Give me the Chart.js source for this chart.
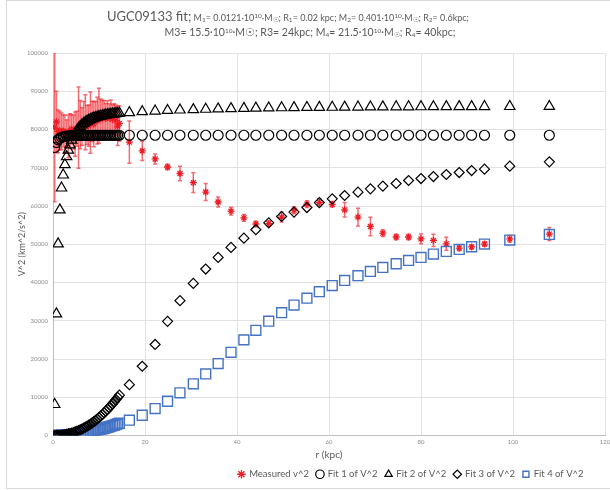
<!DOCTYPE html>
<html>
<head>
<meta charset="utf-8">
<script src="https://cdn.jsdelivr.net/npm/chart.js@4.4.1/dist/chart.umd.min.js"></script>
<style>
  html, body { margin: 0; padding: 0; background: #fff; overflow: hidden; }
  #wrap { position: relative; width: 610px; height: 490px; overflow: hidden; }
  #frame { position: absolute; left: 6px; top: 0; width: 800px; height: 487px; border: 1px solid #d9d9d9; }
  #title { position: absolute; left: 0; top: 7px; width: 620px; text-align: center; color: #595959; font-family: Lato, sans-serif; }
  #title .l1 { height: 17px; line-height: 17px; font-size: 9px; position: relative; left: -22px; }
  #title .l2 { height: 14px; line-height: 14px; font-size: 10.5px; }
  #title .big { font-size: 13px; }
  #title sub { font-size: 6.5px; vertical-align: -1px; }
  #title sup { font-size: 6.5px; vertical-align: 3px; }
  #fitChart { position: absolute; left: 0; top: 0; }
</style>
</head>
<body>
<div id="wrap">
  <div id="frame"></div>
  <canvas id="fitChart" width="822" height="490"></canvas>
  <div id="title">
    <div class="l1"><span class="big">UGC09133 fit;</span> M<sub>1</sub>= 0.0121·10<sup>10</sup>·M<sub>☉</sub>; R<sub>1</sub>= 0.02 kpc; M<sub>2</sub>= 0.401·10<sup>10</sup>·M<sub>☉</sub>; R<sub>2</sub>= 0.6kpc;</div>
    <div class="l2">M3= 15.5·10<sup>10</sup>·M☉; R3= 24kpc; M<sub>4</sub>= 21.5·10<sup>10</sup>·M<sub>☉</sub>; R<sub>4</sub>= 40kpc;</div>
  </div>
</div>
<script>
// radii (kpc)
const radius = [
  0.37, 0.74, 1.11, 1.48, 1.85, 2.22, 2.59, 2.96, 3.33, 3.70,
  4.07, 4.44, 4.81, 5.18, 5.55, 5.92, 6.29, 6.66, 7.03, 7.40,
  7.77, 8.14, 8.51, 8.88, 9.25, 9.62, 9.99, 10.36, 10.73, 11.10,
  11.47, 11.84, 12.21, 12.58, 12.95, 13.32, 13.69, 14.06, 14.43,
  16.6, 19.4, 22.2, 24.9, 27.6, 30.5, 33.2, 35.9, 38.7, 41.5,
  44.1, 46.9, 49.7, 52.4, 55.2, 57.9, 60.7, 63.4, 66.3, 69.0,
  71.7, 74.6, 77.3, 80.0, 82.7, 85.5, 88.3, 91.0, 93.8, 99.3,
  107.9
];

// measured v^2 and its error
const measured = [
  80600, 82000, 79500, 79700, 79500, 79600, 78800, 79000, 78200, 79600,
  80100, 79300, 78800, 80200, 80500, 81300, 80800, 82300, 81900, 81200,
  81000, 81800, 82100, 81400, 82600, 82300, 83600, 82800, 82900, 83200,
  82900, 83400, 83000, 83500, 82700, 83100, 82400, 80900, 81600,
  76700, 74400, 72300, 70200, 68500, 66100, 63650, 61050, 58650, 56900,
  55300, 55400, 57100, 58900, 60500, 60900, 60450, 59000, 57100, 54650,
  52900, 51900, 51900, 51400, 51000, 50100, 49000, 49300, 50050, 51400,
  52650
];
const measuredErr = [
  19500, 8000, 5600, 5000, 4800, 4200, 4900, 3500, 5600, 4500,
  3800, 4400, 5800, 4600, 10600, 6300, 4900, 5000, 7200, 5100,
  5400, 8000, 5300, 5900, 4700, 6100, 7200, 5200, 4800, 4300,
  3900, 4100, 3700, 4200, 3800, 3600, 4000, 5100, 4600,
  5500, 2500, 1300, 700, 1900, 2600, 2200, 1300, 1000, 900,
  700, 700, 1300, 900, 900, 900, 700, 1900, 2300, 2400,
  900, 700, 700, 1300, 1600, 1700, 700, 600, 600, 900,
  1700
];

const fit1 = [
  75300, 76600, 77300, 77700, 77950, 78100, 78200, 78280, 78330, 78370,
  78400, 78420, 78440, 78450, 78460, 78470, 78475, 78480, 78485, 78490,
  78490, 78495, 78495, 78500, 78500, 78500, 78500, 78500, 78500, 78500,
  78500, 78500, 78500, 78500, 78500, 78500, 78500, 78500, 78500,
  78500, 78500, 78500, 78500, 78500, 78500, 78500, 78500, 78500, 78500,
  78500, 78500, 78500, 78500, 78500, 78500, 78500, 78500, 78500, 78500,
  78500, 78500, 78500, 78500, 78500, 78500, 78500, 78500, 78500, 78500,
  78500
];
const fit2 = [
  8100, 31800, 50100, 59000, 64700, 68100, 70800, 72900, 74600, 76000,
  77200, 78200, 79000, 79700, 80300, 80800, 81200, 81600, 81900, 82200,
  82450, 82650, 82850, 83000, 83150, 83300, 83400, 83500, 83600, 83700,
  83780, 83850, 83920, 83990, 84050, 84110, 84170, 84220, 84270,
  84400, 84650, 84820, 84980, 85100, 85200, 85300, 85380, 85450, 85520,
  85580, 85630, 85680, 85720, 85760, 85790, 85820, 85850, 85870, 85890,
  85910, 85930, 85940, 85950, 85960, 85970, 85980, 85990, 86000, 86010,
  86030
];
const fit3 = [
  3, 15, 37, 70, 115, 172, 241, 323, 419, 528,
  651, 788, 940, 1107, 1288, 1484, 1696, 1923, 2166, 2425,
  2700, 2990, 3297, 3621, 3961, 4318, 4692, 5084, 5491, 5917,
  6360, 6819, 7297, 7792, 8305, 8837, 9381, 9952, 10537,
  13300, 18100, 23800, 29850, 35250, 39770, 43520, 46550, 49170, 51600,
  53800, 55600, 57260, 58400, 59600, 60900, 61880, 62740, 63620, 64490,
  65200, 65880, 66660, 67180, 67700, 68230, 68750, 69270, 69630, 70420,
  71540
];
const fit4 = [
  2, 8, 19, 34, 53, 76, 103, 135, 170, 210,
  255, 303, 356, 412, 473, 539, 608, 682, 760, 842,
  928, 1018, 1113, 1212, 1315, 1422, 1534, 1650, 1770, 1894,
  2022, 2155, 2291, 2432, 2578, 2727, 2881, 3038, 3200,
  4000, 5300, 7050, 8960, 11150, 13500, 16100, 18800, 21750, 25000,
  27500, 29900, 32100, 34100, 35900, 37600, 39200, 40550, 41780, 42900,
  43940, 44900, 45770, 46550, 47440, 48120, 48640, 49350, 50050, 51100,
  52560
];

const pts = vals => radius.map((r, i) => ({ x: r, y: vals[i] }));

// vertical error bars under the measured markers
const errorBars = {
  id: "errorBars",
  beforeDatasetDraw(chart, args) {
    if (args.index !== 0) return;
    const { ctx, chartArea, scales: { x, y } } = chart;
    ctx.save();
    ctx.beginPath();
    ctx.rect(chartArea.left, chartArea.top, chartArea.width, chartArea.height);
    ctx.clip();
    ctx.strokeStyle = "rgba(238,28,37,0.65)";
    ctx.lineWidth = 1.5;
    radius.forEach((r, i) => {
      const px = x.getPixelForValue(r);
      const top = y.getPixelForValue(measured[i] + measuredErr[i]);
      const bot = y.getPixelForValue(measured[i] - measuredErr[i]);
      ctx.beginPath();
      ctx.moveTo(px, top); ctx.lineTo(px, bot);
      ctx.moveTo(px - 2, top); ctx.lineTo(px + 2, top);
      ctx.moveTo(px - 2, bot); ctx.lineTo(px + 2, bot);
      ctx.stroke();
    });
    ctx.restore();
  }
};

const font = "Lato, 'Open Sans', sans-serif";

new Chart(document.getElementById("fitChart"), {
  type: "scatter",
  data: {
    datasets: [
      {
        label: "Measured v^2",
        data: pts(measured),
        pointStyle: "star",
        pointRadius: 3.5,
        borderColor: "#ee1c25",
        backgroundColor: "#ee1c25",
        borderWidth: 1.3,
        order: 1
      },
      {
        label: "Fit 1 of V^2",
        data: pts(fit1),
        pointStyle: "circle",
        pointRadius: 5,
        borderColor: "#000",
        backgroundColor: "rgba(0,0,0,0)",
        borderWidth: 1.2,
        order: 0
      },
      {
        label: "Fit 2 of V^2",
        data: pts(fit2),
        pointStyle: "triangle",
        pointRadius: 6,
        borderColor: "#000",
        backgroundColor: "rgba(0,0,0,0)",
        borderWidth: 1.2,
        order: 0
      },
      {
        label: "Fit 3 of V^2",
        data: pts(fit3),
        pointStyle: "rectRot",
        pointRadius: 5,
        borderColor: "#000",
        backgroundColor: "rgba(0,0,0,0)",
        borderWidth: 1.2,
        order: 0
      },
      {
        label: "Fit 4 of V^2",
        data: pts(fit4),
        pointStyle: "rect",
        pointRadius: 7,
        borderColor: "#4472c4",
        backgroundColor: "rgba(0,0,0,0)",
        borderWidth: 1.4,
        order: 0
      }
    ]
  },
  options: {
    responsive: false,
    animation: false,
    devicePixelRatio: 1,
    layout: { padding: { left: 0, top: 53, right: 0, bottom: 1 } },
    plugins: {
      legend: {
        position: "bottom",
        labels: {
          usePointStyle: true,
          boxWidth: 6,
          boxHeight: 6,
          padding: 8,
          color: "#595959",
          font: { family: font, size: 9.5 },
          sort: (a, b) => a.datasetIndex - b.datasetIndex
        }
      },
      tooltip: { enabled: false }
    },
    scales: {
      x: {
        type: "linear",
        min: 0,
        max: 120,
        ticks: { stepSize: 20, padding: 3, color: "#8c8c8c", font: { family: font, size: 6 } },
        grid: { color: "#e3e3e3", drawTicks: false },
        border: { color: "#bfbfbf" },
        title: { display: true, text: "r (kpc)", color: "#595959", font: { family: font, size: 10 }, padding: { top: 0, bottom: 1 } },
        afterFit: s => { s.height = 26; }
      },
      y: {
        min: 0,
        max: 100000,
        ticks: { stepSize: 10000, padding: 5, color: "#8c8c8c", font: { family: font, size: 6 }, callback: v => String(v) },
        grid: { color: "#e3e3e3", drawTicks: false },
        border: { color: "#bfbfbf" },
        title: { display: true, text: "V^2 (km^2/s^2)", color: "#595959", font: { family: font, size: 9 }, padding: { top: 16.6, bottom: 0 } },
        afterFit: s => { s.width = 53; }
      },
      // empty space to the right of the plot, as in the original sheet
      pad: {
        type: "linear",
        position: "right",
        display: true,
        ticks: { display: false },
        grid: { display: false, drawOnChartArea: false },
        border: { display: false },
        afterFit: s => { s.width = 217; }
      }
    }
  },
  plugins: [errorBars]
});
</script>
</body>
</html>
